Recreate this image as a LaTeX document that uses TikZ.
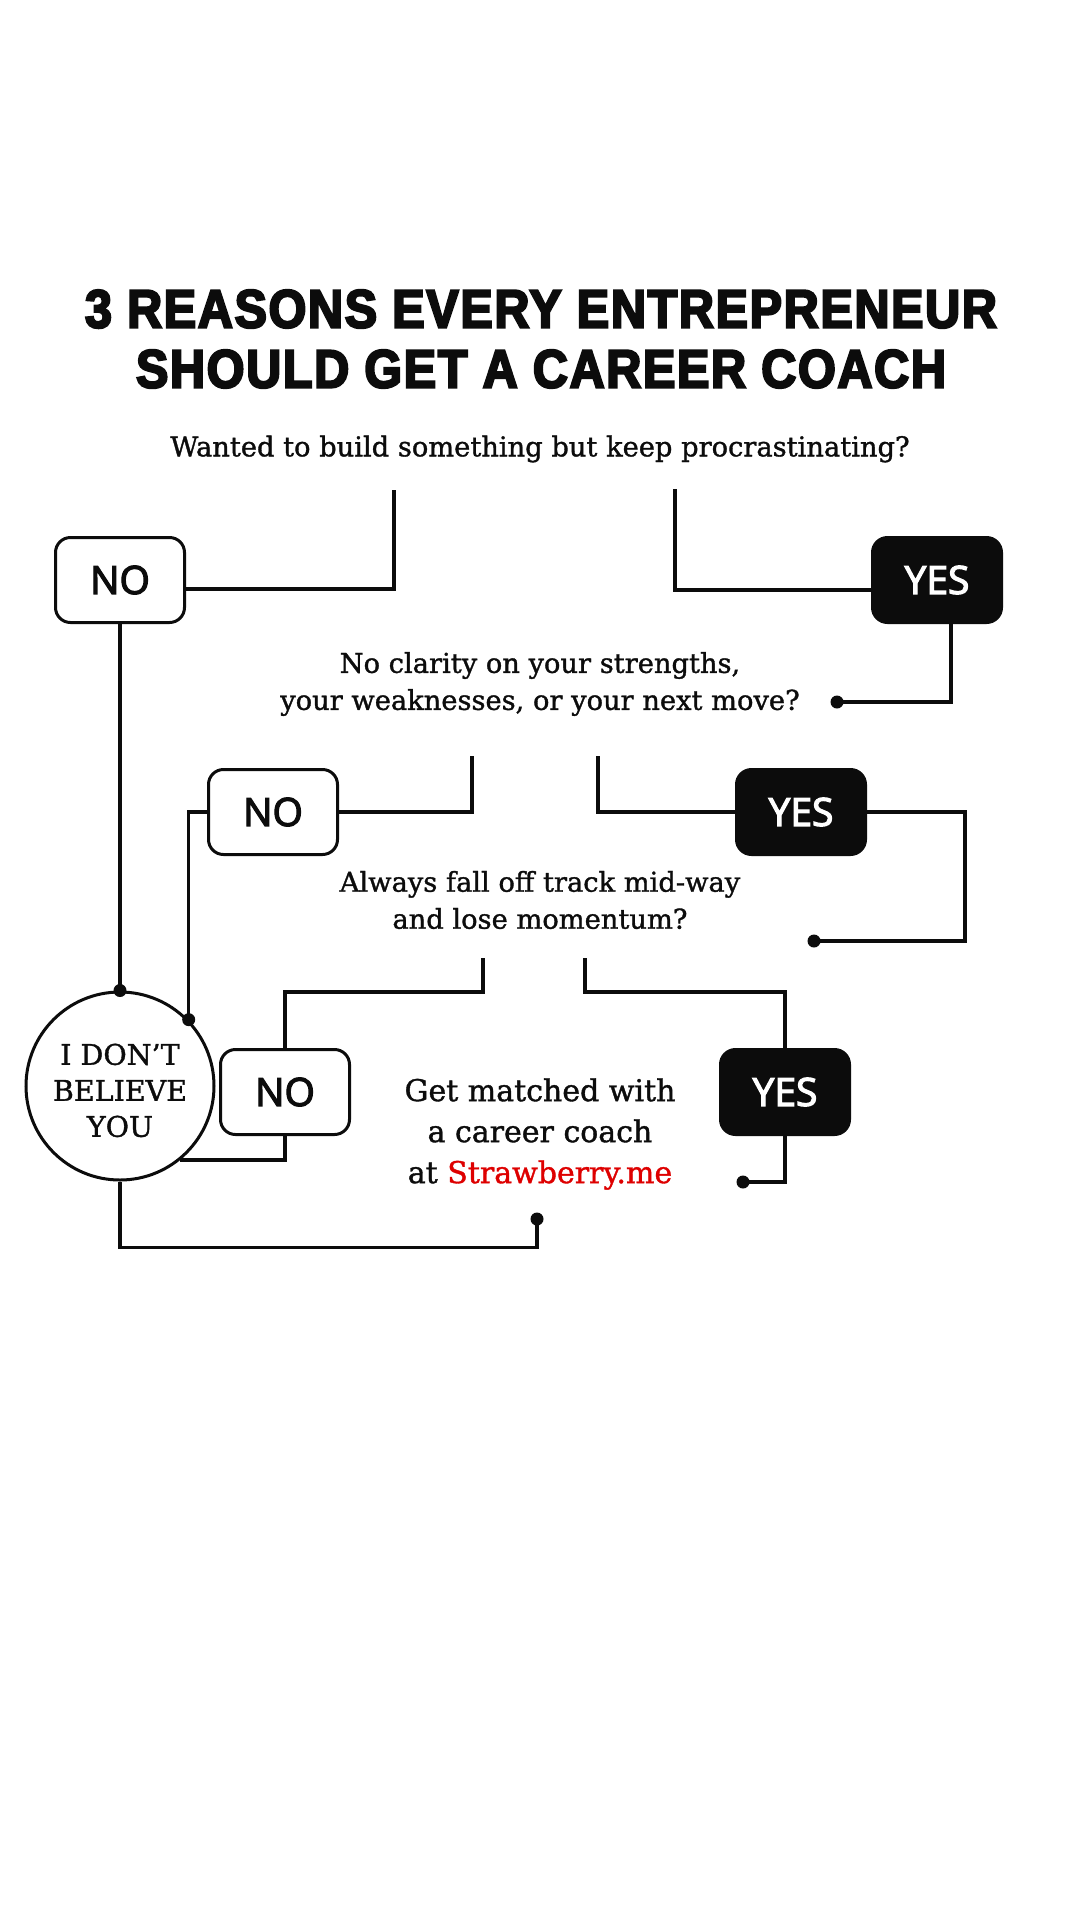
\documentclass[tikz,border=0pt]{standalone}
\usepackage{fontspec}
\setmainfont{DejaVu Serif}[FakeBold=1.2]
\newfontfamily\titlefont{Liberation Sans}[FakeStretch=0.9,BoldFeatures={FakeBold=4,LetterSpace=3}]
\newfontfamily\btnfont{Open Sans}[FakeBold=3]
\definecolor{straw}{RGB}{222,0,0}
\definecolor{ink}{RGB}{12,12,12}
\tikzset{
  conn/.style={line width=3.5pt, draw=ink},
  nobox/.style={draw=ink, line width=3pt, fill=white, rounded corners=15pt,
    minimum width=129pt, minimum height=85pt, inner sep=0pt,
    font=\btnfont\fontsize{39}{40}\selectfont, text=ink},
  yesbox/.style={nobox, fill=ink, text=white},
  qtext/.style={align=center, font=\fontsize{27.3}{37}\selectfont, text=ink},
  dotfill/.style={fill=ink}
}
\begin{document}
\begin{tikzpicture}[x=1pt,y=-1pt]
\useasboundingbox[fill=white] (0,0) rectangle (1080,1920);

% title and texts
\node[font=\titlefont\bfseries\fontsize{54}{60}\selectfont, align=center, text=ink] (title) at (541,339)
  {3 REASONS EVERY ENTREPRENEUR\\SHOULD GET A CAREER COACH};
\node[qtext] (q1) at (540,449) {Wanted to build something but keep procrastinating?};
\node[qtext] (q2) at (540,684) {No clarity on your strengths,\\your weaknesses, or your next move?};
\node[qtext] (q3) at (540,900) {Always fall off track mid-way\\and lose momentum?};
\node[qtext, font=\fontsize{30}{41}\selectfont] (goal) at (540,1134)
  {Get matched with\\a career coach\\at \textcolor{straw}{Strawberry.me}};

% boxes
\node[nobox] (NO1) at (120,580) {NO};
\node[yesbox] (YES1) at (937,580) {YES};
\node[nobox] (NO2) at (273,812) {NO};
\node[yesbox] (YES2) at (801,812) {YES};
\node[nobox] (NO3) at (285,1092) {NO};
\node[yesbox] (YES3) at (785,1092) {YES};
\node[circle, draw=ink, line width=3pt, minimum size=188pt, inner sep=0pt, align=center,
  font=\fontsize{28.5}{36}\selectfont, text=ink] (circ) at (120,1086)
  {\rule{0pt}{30pt}I DON’T\\BELIEVE\\YOU};

% free ends
\coordinate (t1L) at (394,490);
\coordinate (t1R) at (675,489);
\coordinate (t2L) at (472,756);
\coordinate (t2R) at (598,756);
\coordinate (t3L) at (483,958);
\coordinate (t3R) at (585,958);
\coordinate (d1) at (837,702);
\coordinate (d2) at (814,941);
\coordinate (d3) at (743,1182);
\coordinate (d4) at (537,1219);

% connectors
\draw[conn] (t1L) |- ([yshift=-9pt]NO1.east);
\draw[conn] (t1R) |- ([yshift=-10pt]YES1.west);
\draw[conn] (NO1.south) -- (circ.north);
\draw[conn] ([xshift=14pt]YES1.south) |- (d1);
\draw[conn] (t2L) |- (NO2.east);
\draw[conn] (t2R) |- (YES2.west);
\draw[conn] (NO2.west) -| (circ.44);
\draw[conn] (YES2.east) -- ++(98,0) |- (d2);
\draw[conn] (t3L) -- ++(0,34) -| (NO3.north);
\draw[conn] (t3R) -- ++(0,34) -| (YES3.north);
\draw[conn] (NO3.south) |- (circ.-51);
\draw[conn] (YES3.south) |- (d3);
\draw[conn] (circ.south) -- ++(0,66) -| (d4);

% dots
\fill[dotfill] (d1) circle (6.5pt);
\fill[dotfill] (d2) circle (6.5pt);
\fill[dotfill] (d3) circle (6.5pt);
\fill[dotfill] (d4) circle (6.5pt);
\fill[dotfill] (circ.north) circle (6.5pt);
\fill[dotfill] (circ.44) circle (6.5pt);
\end{tikzpicture}
\end{document}
